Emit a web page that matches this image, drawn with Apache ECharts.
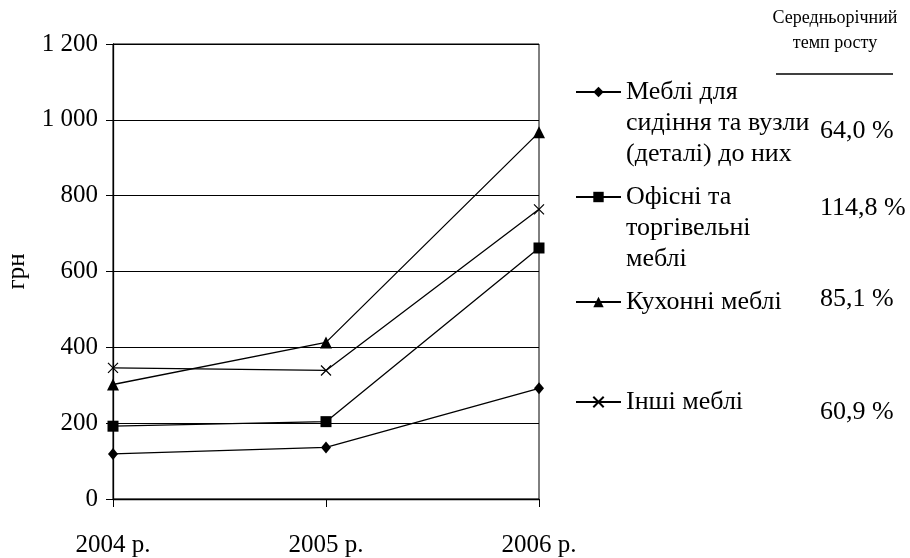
<!DOCTYPE html>
<html>
<head>
<meta charset="utf-8">
<script src="https://cdn.jsdelivr.net/npm/echarts@6/dist/echarts.min.js"></script>
<style>
  html, body { margin: 0; padding: 0; background: #fff; }
  #chart { width: 910px; height: 558px; }
</style>
</head>
<body>
<div id="chart"></div>
<script>
// дані
var years = ['2004 р.', '2005 р.', '2006 р.'];
var seriesNames = [
  'Меблі для сидіння та вузли (деталі) до них',
  'Офісні та торгівельні меблі',
  'Кухонні меблі',
  'Інші меблі'
];
var legendLabels = [
  'Меблі для\nсидіння та вузли\n(деталі) до них',
  'Офісні та\nторгівельні\nмеблі',
  'Кухонні меблі',
  'Інші меблі'
];
var seatingValues = [119, 136, 292];
var officeValues = [192, 204, 662];
var kitchenValues = [302, 413, 967];
var otherValues = [346, 339, 764];
var growthRates = ['64,0 %', '114,8 %', '85,1 %', '60,9 %'];
var yTicks = { min: 0, max: 1200, step: 200 };

var FONT = 'Liberation Serif';
var chart = echarts.init(document.getElementById('chart'));

var symbols = ['diamond', 'rect', 'triangle', 'path://M0,0L10,10M10,0L0,10'];
var symbolSizes = [[10, 12], 11, 12, 10];
var allValues = [seatingValues, officeValues, kitchenValues, otherValues];

var series = allValues.map(function (vals, i) {
  return {
    name: seriesNames[i],
    type: 'line',
    data: vals,
    symbol: symbols[i],
    symbolSize: symbolSizes[i],
    showSymbol: true,
    lineStyle: { color: '#000', width: 1.3 },
    itemStyle: { color: '#000', borderColor: '#000', borderWidth: i === 3 ? 1.2 : 0 },
    emphasis: { disabled: true },
    animation: false
  };
});

// legend: one block per item; empty lines on top keep the icon on the first text line
var iconY = [92, 197, 302, 402];
var LH = 31;
var legends = seriesNames.map(function (name, i) {
  var n = legendLabels[i].split('\n').length;
  var pad = new Array(n).join('\n');
  return {
    data: [name],
    left: 575,
    top: iconY[i] - (2 * n - 1) * LH / 2,
    orient: 'vertical',
    padding: 0,
    itemWidth: 45,
    itemHeight: 13,
    selectedMode: false,
    formatter: function () { return pad + legendLabels[i]; },
    textStyle: { fontFamily: FONT, fontSize: 26, color: '#000', lineHeight: LH }
  };
});

var rateY = [131, 208, 299, 412];
var graphics = growthRates.map(function (r, i) {
  return {
    type: 'text', x: 820, y: rateY[i],
    style: { text: r, font: '26px "' + FONT + '"', fill: '#000', verticalAlign: 'middle' }
  };
});
graphics.push({
  type: 'text', x: 835, y: 18,
  style: { text: 'Середньорічний', font: '18px "' + FONT + '"', fill: '#000', align: 'center', verticalAlign: 'middle' }
});
graphics.push({
  type: 'text', x: 835, y: 43,
  style: { text: 'темп росту', font: '18px "' + FONT + '"', fill: '#000', align: 'center', verticalAlign: 'middle' }
});
graphics.push({
  type: 'line', shape: { x1: 776, y1: 74, x2: 893, y2: 74 },
  style: { stroke: '#000', lineWidth: 1.5 }
});

chart.setOption({
  backgroundColor: '#fff',
  animation: false,
  grid: { left: 113, top: 44, right: 371, bottom: 56, show: true, borderColor: '#000', borderWidth: 1 },
  legend: legends,
  xAxis: {
    type: 'category',
    data: years,
    boundaryGap: false,
    axisLine: { lineStyle: { color: '#000', width: 1.3 } },
    axisTick: { show: true, length: 8, lineStyle: { color: '#000' } },
    axisLabel: { fontFamily: FONT, fontSize: 25, color: '#000', margin: 34 },
    splitLine: { show: false }
  },
  yAxis: {
    type: 'value',
    min: yTicks.min, max: yTicks.max, interval: yTicks.step,
    name: 'грн',
    nameLocation: 'middle',
    nameRotate: 90,
    nameGap: 83,
    nameTextStyle: { fontFamily: FONT, fontSize: 25, color: '#000' },
    axisLine: { show: true, lineStyle: { color: '#000', width: 1.3 } },
    axisTick: { show: true, length: 7, lineStyle: { color: '#000' } },
    axisLabel: {
      fontFamily: FONT, fontSize: 25, color: '#000', margin: 15,
      formatter: function (v) { return String(v).replace(/\B(?=(\d{3})+(?!\d))/g, ' '); }
    },
    splitLine: { show: true, lineStyle: { color: '#000', width: 1 } }
  },
  graphic: graphics,
  series: series
});
</script>
</body>
</html>
